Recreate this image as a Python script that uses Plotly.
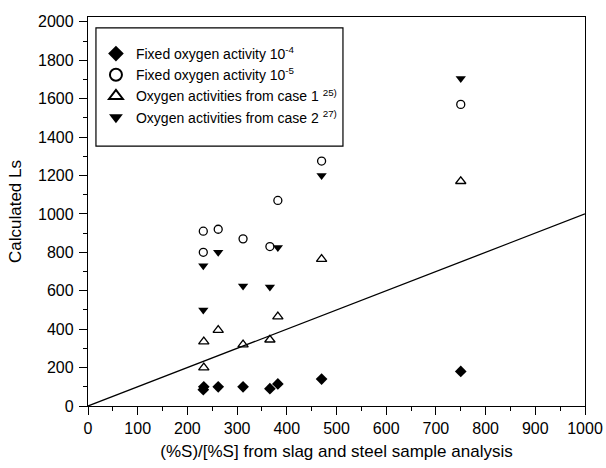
import plotly.graph_objects as go

# Data
x_fixed4 = [232, 233, 262, 312, 366, 382, 470, 750]
y_fixed4 = [85, 100, 100, 100, 90, 115, 140, 180]

x_fixed5 = [232, 232, 262, 312, 366, 382, 470, 750]
y_fixed5 = [910, 800, 920, 870, 830, 1070, 1275, 1570]

x_case1 = [233, 233, 262, 312, 366, 382, 470, 750]
y_case1 = [335, 200, 395, 320, 345, 465, 765, 1170]

x_case2 = [232, 232, 262, 312, 366, 382, 470, 750]
y_case2 = [730, 500, 800, 625, 620, 825, 1200, 1705]

line_x = [0, 1000]
line_y = [0, 1000]

names = [
    "Fixed oxygen activity 10<sup>-4</sup>",
    "Fixed oxygen activity 10<sup>-5</sup>",
    "Oxygen activities from case 1 <sup>25)</sup>",
    "Oxygen activities from case 2 <sup>27)</sup>",
]

FONT = "Liberation Sans, Arial, sans-serif"

fig = go.Figure()
fig.add_trace(go.Scatter(x=line_x, y=line_y, mode="lines",
                         line=dict(color="black", width=1.3), showlegend=False))
fig.add_trace(go.Scatter(x=x_fixed4, y=y_fixed4, mode="markers", name=names[0], legendgroup="a",
                         marker=dict(symbol="diamond", size=9, color="black")))
fig.add_trace(go.Scatter(x=x_fixed5, y=y_fixed5, mode="markers", name=names[1], legendgroup="b",
                         marker=dict(symbol="circle-open", size=8, color="black", line=dict(width=1.3))))
fig.add_trace(go.Scatter(x=x_case1, y=y_case1, mode="markers", name=names[2], legendgroup="c",
                         marker=dict(symbol="triangle-up-open", size=9, color="black", line=dict(width=1.3))))
fig.add_trace(go.Scatter(x=x_case2, y=y_case2, mode="markers", name=names[3], legendgroup="d",
                         marker=dict(symbol="triangle-down", size=9, color="black")))

axis_common = dict(
    showgrid=False, zeroline=False, showline=True, linecolor="black", linewidth=1.3,
    mirror=True, ticks="outside", ticklen=8, tickwidth=1.2, tickcolor="black",
    automargin=False,
    tickfont=dict(family=FONT, size=16, color="black"),
)

fig.update_xaxes(range=[0, 1000], dtick=100, tick0=0, ticklabelstandoff=0,
                 minor=dict(dtick=50, ticks="outside", ticklen=4, tickcolor="black", showgrid=False),
                 title=dict(text="(%S)/[%S] from slag and steel sample analysis",
                            font=dict(family=FONT, size=17, color="black"), standoff=8),
                 **axis_common)
fig.update_yaxes(range=[0, 2025], dtick=200, tick0=0, ticklabelstandoff=2,
                 minor=dict(dtick=100, ticks="outside", ticklen=4, tickcolor="black", showgrid=False),
                 title=dict(text="Calculated Ls",
                            font=dict(family=FONT, size=17, color="black"), standoff=12),
                 **axis_common)

# legend frame
fig.add_shape(type="rect", xref="paper", yref="paper",
              x0=0.016, x1=0.513, y0=0.668, y1=0.972,
              line=dict(color="black", width=1.2), fillcolor="white", layer="below")

fig.update_layout(
    width=606, height=468,
    margin=dict(l=88, r=21, t=17, b=62),
    plot_bgcolor="white", paper_bgcolor="white",
    font=dict(family=FONT, color="black"),
    legend=dict(x=0.016, y=0.946, xanchor="left", yanchor="top",
                borderwidth=0, bgcolor="rgba(0,0,0,0)",
                font=dict(family=FONT, size=14, color="black"),
                traceorder="grouped", tracegroupgap=0,
                itemsizing="constant"),
)

fig.write_html("out.html")
